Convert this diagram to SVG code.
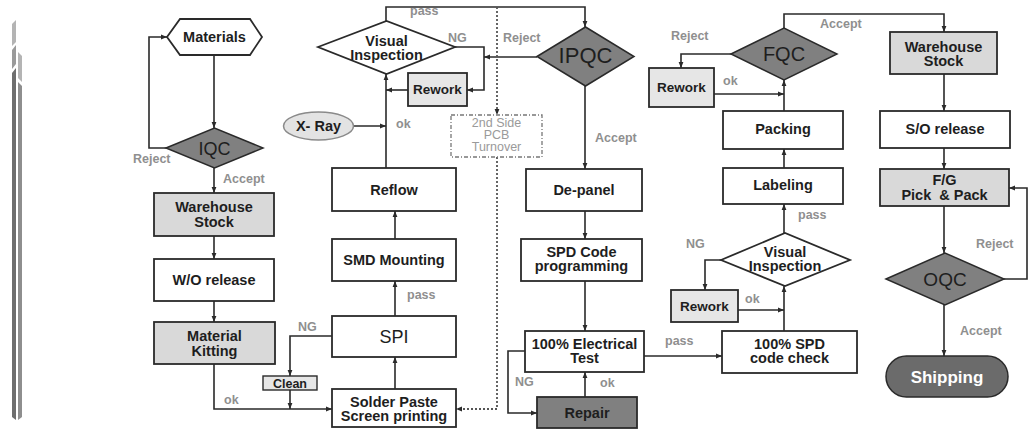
<svg xmlns="http://www.w3.org/2000/svg" width="1031" height="429" viewBox="0 0 1031 429">
  <style>
    .bx { fill: #ffffff; stroke: #2a2a2a; stroke-width: 1.8; }
    .lt { fill: #d9d9d9; stroke: #2a2a2a; stroke-width: 1.8; }
    .rw { fill: #e6e6e6; stroke: #2a2a2a; stroke-width: 1.8; }
    .dk { fill: #808080; stroke: #2a2a2a; stroke-width: 1.5; }
    .t { font-family: "Liberation Sans", Arial, sans-serif; font-weight: bold; font-size: 14.5px; fill: #1e1e1e; text-anchor: middle; }
    .q { font-family: "Liberation Sans", Arial, sans-serif; font-size: 20px; fill: #1e1e1e; text-anchor: middle; }
    .lb { font-family: "Liberation Sans", Arial, sans-serif; font-weight: bold; font-size: 12.5px; fill: #8f8f8f; }
    .tn { font-family: "Liberation Sans", Arial, sans-serif; font-size: 12.5px; fill: #9a9a9a; text-anchor: middle; }
    .c path { fill: none; stroke: #2a2a2a; stroke-width: 1.6; }
    .c path.a { marker-end: url(#ah); }
    .c path.d { stroke: #555555; stroke-width: 1.8; stroke-dasharray: 2 2; }
  </style>
  <defs>
    <marker id="ah" viewBox="0 0 10 10" refX="10" refY="5" markerWidth="6" markerHeight="6" markerUnits="userSpaceOnUse" orient="auto">
      <path d="M0,1 L10,5 L0,9 Z" fill="#2a2a2a"/>
    </marker>
  </defs>

  <!-- side bars -->
  <g id="sidebars">
    <polygon points="12,24 16,20 16,42 12,46" fill="#b4b4b4"/>
    <polygon points="12,50 16,45 16,64 12,69" fill="#9a9a9a"/>
    <polygon points="12,73 16,68 16,420 12,417" fill="#6e6e6e"/>
    <polygon points="18,52 22,56 22,82 18,78" fill="#b4b4b4"/>
    <polygon points="18,82 22,86 22,417 18,420" fill="#8e8e8e"/>
  </g>

  <!-- connectors -->
  <g id="connectors" class="c">
    <path class="a" d="M214,55 V128"/>
    <path class="a" d="M166,148 H149 V37 H167"/>
    <path class="a" d="M214,168 V193"/>
    <path class="a" d="M214,236 V259"/>
    <path class="a" d="M214,301 V322"/>
    <path class="a" d="M214,364 V409 H332"/>
    <path class="a" d="M332,336 H290 V376"/>
    <path class="a" d="M290,390 V409"/>
    <path class="a" d="M395,389 V357"/>
    <path class="a" d="M395,316 V281"/>
    <path class="a" d="M395,239 V211"/>
    <path class="a" d="M386,168 V74"/>
    <path class="a" d="M353,126 H386"/>
    <path class="a" d="M408,90 H386"/>
    <path class="a" d="M455,47 H484 V90 H467"/>
    <path class="a" d="M537,57 H484"/>
    <path class="a" d="M386,21 V7 H585 V27"/>
    <path class="a d" d="M497,7 V115"/>
    <path class="a d" d="M497,157 V409 H456"/>
    <path class="a" d="M585,86 V169"/>
    <path class="a" d="M585,211 V239"/>
    <path class="a" d="M585,281 V331"/>
    <path class="a" d="M525,351 H508 V413 H537"/>
    <path class="a" d="M585,397 V372"/>
    <path class="a" d="M644,356 H722"/>
    <path class="a" d="M784,331 V286"/>
    <path class="a" d="M721,260 H705 V290"/>
    <path class="a" d="M738,310 H784"/>
    <path class="a" d="M784,233 V204"/>
    <path class="a" d="M784,168 V149"/>
    <path class="a" d="M784,111 V80"/>
    <path class="a" d="M714,94 H784"/>
    <path class="a" d="M731,54 H681 V68"/>
    <path class="a" d="M784,28 V14 H944 V32"/>
    <path class="a" d="M944,74 V111"/>
    <path class="a" d="M944,148 V169"/>
    <path class="a" d="M944,206 V253"/>
    <path class="a" d="M1004,279 H1027 V188 H1009"/>
    <path class="a" d="M944,305 V356"/>
  </g>

  <!-- connector labels -->
  <g id="labels">
    <text class="lb" x="133" y="163">Reject</text>
    <text class="lb" x="223" y="183">Accept</text>
    <text class="lb" x="224" y="404">ok</text>
    <text class="lb" x="298" y="331">NG</text>
    <text class="lb" x="407" y="299">pass</text>
    <text class="lb" x="396" y="128">ok</text>
    <text class="lb" x="448" y="42">NG</text>
    <text class="lb" x="503" y="42">Reject</text>
    <text class="lb" x="410" y="15">pass</text>
    <text class="lb" x="595" y="142">Accept</text>
    <text class="lb" x="515" y="386">NG</text>
    <text class="lb" x="600" y="387">ok</text>
    <text class="lb" x="665" y="345">pass</text>
    <text class="lb" x="686" y="248">NG</text>
    <text class="lb" x="745" y="303">ok</text>
    <text class="lb" x="798" y="219">pass</text>
    <text class="lb" x="671" y="40">Reject</text>
    <text class="lb" x="723" y="85">ok</text>
    <text class="lb" x="820" y="28">Accept</text>
    <text class="lb" x="976" y="248">Reject</text>
    <text class="lb" x="960" y="335">Accept</text>
  </g>

  <!-- left column -->
  <g id="materials">
    <polygon class="bx" points="167,37 180,19 250,19 262,37 250,55 180,55"/>
    <text class="t" x="214.5" y="42">Materials</text>
  </g>
  <g id="iqc">
    <polygon class="dk" points="166,148 214.5,128 263,148 214.5,168"/>
    <text class="q" x="214.5" y="155" style="font-size:18px">IQC</text>
  </g>
  <g id="warehouse-stock-in">
    <rect class="lt" x="154" y="193" width="120" height="43"/>
    <text class="t" x="214" y="212">Warehouse</text>
    <text class="t" x="214" y="227">Stock</text>
  </g>
  <g id="wo-release">
    <rect class="bx" x="154" y="259" width="120" height="42"/>
    <text class="t" x="214" y="285">W/O release</text>
  </g>
  <g id="material-kitting">
    <rect class="lt" x="154" y="322" width="121" height="42"/>
    <text class="t" x="214.5" y="341">Material</text>
    <text class="t" x="214.5" y="355.5">Kitting</text>
  </g>
  <g id="clean">
    <rect class="rw" x="263" y="376" width="54" height="14" style="stroke-width:1.4"/>
    <text class="t" x="290" y="387.5" style="font-size:12.5px">Clean</text>
  </g>

  <!-- SMT column -->
  <g id="solder-paste">
    <rect class="bx" x="332" y="389" width="124" height="38"/>
    <text class="t" x="394" y="407">Solder Paste</text>
    <text class="t" x="394" y="421">Screen printing</text>
  </g>
  <g id="spi">
    <rect class="bx" x="332" y="316" width="124" height="41"/>
    <text class="q" x="394" y="342.5" style="font-size:18px">SPI</text>
  </g>
  <g id="smd-mounting">
    <rect class="bx" x="332" y="239" width="124" height="42"/>
    <text class="t" x="394" y="265">SMD Mounting</text>
  </g>
  <g id="reflow">
    <rect class="bx" x="332" y="168" width="124" height="43"/>
    <text class="t" x="394" y="194.5">Reflow</text>
  </g>
  <g id="visual-inspection-smt">
    <polygon class="bx" points="318,47 386.5,21 455,47 386.5,74"/>
    <text class="t" x="386.5" y="45.5">Visual</text>
    <text class="t" x="386.5" y="59.5">Inspection</text>
  </g>
  <g id="x-ray">
    <ellipse cx="318.5" cy="126" rx="35" ry="14" fill="#e3e3e3" stroke="#8a8a8a" stroke-width="1.5"/>
    <text class="t" x="318.5" y="131">X- Ray</text>
  </g>
  <g id="rework-smt">
    <rect class="rw" x="408" y="73" width="59" height="33"/>
    <text class="t" x="437.5" y="94" style="font-size:13.5px">Rework</text>
  </g>
  <g id="pcb-turnover">
    <rect x="451" y="115" width="91" height="42" fill="#ffffff" stroke="#777777" stroke-width="1.3" stroke-dasharray="4 2 1 2"/>
    <text class="tn" x="496.5" y="127">2nd Side</text>
    <text class="tn" x="496.5" y="139">PCB</text>
    <text class="tn" x="496.5" y="151">Turnover</text>
  </g>

  <!-- back-end column -->
  <g id="ipqc">
    <polygon class="dk" points="537,56.5 585.5,27 634,56.5 585.5,86"/>
    <text class="q" x="585.5" y="63" style="font-size:22px">IPQC</text>
  </g>
  <g id="de-panel">
    <rect class="bx" x="526" y="169" width="116" height="42"/>
    <text class="t" x="584" y="195">De-panel</text>
  </g>
  <g id="spd-programming">
    <rect class="bx" x="521" y="239" width="121" height="42"/>
    <text class="t" x="581.5" y="257">SPD Code</text>
    <text class="t" x="581.5" y="271">programming</text>
  </g>
  <g id="electrical-test">
    <rect class="bx" x="525" y="331" width="119" height="41"/>
    <text class="t" x="584.5" y="349">100% Electrical</text>
    <text class="t" x="584.5" y="363">Test</text>
  </g>
  <g id="repair">
    <rect class="dk" x="537" y="397" width="100" height="31" style="stroke-width:1.8"/>
    <text class="t" x="587" y="418">Repair</text>
  </g>

  <!-- final QC column -->
  <g id="spd-code-check">
    <rect class="bx" x="722" y="331" width="135" height="42"/>
    <text class="t" x="789.5" y="349">100% SPD</text>
    <text class="t" x="789.5" y="363">code check</text>
  </g>
  <g id="visual-inspection-final">
    <polygon class="bx" points="721,260 785,233 850,260 785,286"/>
    <text class="t" x="785" y="257">Visual</text>
    <text class="t" x="785" y="271">Inspection</text>
  </g>
  <g id="rework-final">
    <rect class="rw" x="671" y="290" width="67" height="32"/>
    <text class="t" x="704.5" y="310.5" style="font-size:13.5px">Rework</text>
  </g>
  <g id="labeling">
    <rect class="bx" x="723" y="168" width="120" height="36"/>
    <text class="t" x="783" y="190">Labeling</text>
  </g>
  <g id="packing">
    <rect class="bx" x="723" y="111" width="120" height="38"/>
    <text class="t" x="783" y="134">Packing</text>
  </g>
  <g id="rework-fqc">
    <rect class="rw" x="649" y="68" width="65" height="39"/>
    <text class="t" x="681.5" y="92" style="font-size:13.5px">Rework</text>
  </g>
  <g id="fqc">
    <polygon class="dk" points="731,54 784,28 837,54 784,80"/>
    <text class="q" x="784" y="61">FQC</text>
  </g>

  <!-- shipping column -->
  <g id="warehouse-stock-out">
    <rect class="lt" x="890" y="32" width="107" height="42"/>
    <text class="t" x="943.5" y="52">Warehouse</text>
    <text class="t" x="943.5" y="66">Stock</text>
  </g>
  <g id="so-release">
    <rect class="bx" x="880" y="111" width="130" height="37"/>
    <text class="t" x="945" y="134">S/O release</text>
  </g>
  <g id="fg-pick-pack">
    <rect class="lt" x="880" y="169" width="129" height="37"/>
    <text class="t" x="944.5" y="185">F/G</text>
    <text class="t" x="944.5" y="200" xml:space="preserve">Pick  &amp; Pack</text>
  </g>
  <g id="oqc">
    <polygon class="dk" points="886,279 945,253 1004,279 945,305"/>
    <text class="q" x="945" y="285.5" style="font-size:19px">OQC</text>
  </g>
  <g id="shipping">
    <rect x="886" y="356" width="122" height="41" rx="20.5" ry="20.5" fill="#6b6b6b" stroke="#2a2a2a" stroke-width="1.5"/>
    <text class="t" x="947" y="383" style="font-size:17px;fill:#ffffff">Shipping</text>
  </g>
</svg>
